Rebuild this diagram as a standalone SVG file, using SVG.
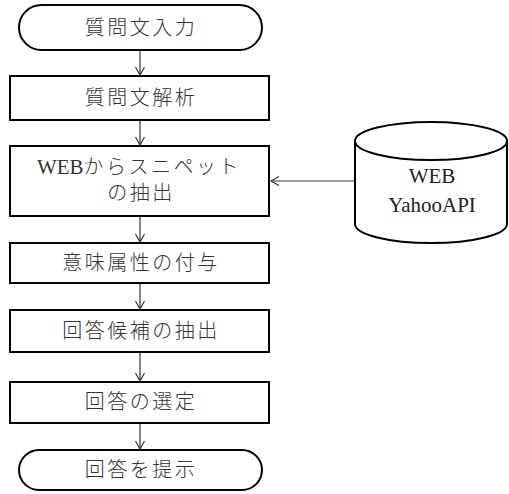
<svg xmlns="http://www.w3.org/2000/svg" width="509" height="494" viewBox="0 0 509 494">
<style>
.shape{fill:#fff;stroke:#000;stroke-width:2}
.t{font-family:"Liberation Serif","Noto Sans CJK JP",serif;font-size:20px;font-weight:300;fill:#333;text-anchor:middle;dominant-baseline:central;letter-spacing:2.5px}
.l{letter-spacing:0;font-size:21px;font-weight:400}
.e{font-family:"Liberation Serif","Noto Sans CJK JP",serif;font-size:21px;fill:#222;text-anchor:middle;dominant-baseline:central}
.c{fill:none;stroke:#333;stroke-width:1.2}
</style>
<defs>
<marker id="a" markerWidth="12" markerHeight="12" refX="9" refY="5" orient="auto" markerUnits="userSpaceOnUse">
<path d="M1,0.5 L9,5 L1,9.5" fill="none" stroke="#333" stroke-width="1.2"/>
</marker>
</defs>
<g id="connectors">
<line class="c" x1="140" y1="50" x2="140" y2="75" marker-end="url(#a)"/>
<line class="c" x1="140" y1="120" x2="140" y2="145" marker-end="url(#a)"/>
<line class="c" x1="140" y1="216" x2="140" y2="242" marker-end="url(#a)"/>
<line class="c" x1="140" y1="283" x2="140" y2="309" marker-end="url(#a)"/>
<line class="c" x1="140" y1="352" x2="140" y2="381" marker-end="url(#a)"/>
<line class="c" x1="140" y1="423" x2="140" y2="449" marker-end="url(#a)"/>
<line class="c" x1="355" y1="181" x2="271" y2="181" marker-end="url(#a)"/>
</g>
<g id="start">
<rect class="shape" x="19" y="5" width="243" height="45" rx="22.5" ry="22.5"/>
<text class="t" x="141" y="28">質問文入力</text>
</g>
<g id="analyze">
<rect class="shape" x="10" y="76" width="259" height="44"/>
<text class="t" x="141" y="98">質問文解析</text>
</g>
<g id="snippet">
<rect class="shape" x="10" y="146" width="259" height="70"/>
<text class="t" x="139" y="167"><tspan class="l">WEB</tspan>からスニペット</text>
<text class="t" x="141" y="193">の抽出</text>
</g>
<g id="semantic">
<rect class="shape" x="10" y="243" width="259" height="40"/>
<text class="t" x="141" y="263">意味属性の付与</text>
</g>
<g id="candidates">
<rect class="shape" x="10" y="310" width="259" height="42"/>
<text class="t" x="141" y="331">回答候補の抽出</text>
</g>
<g id="select">
<rect class="shape" x="10" y="382" width="259" height="41"/>
<text class="t" x="141" y="402">回答の選定</text>
</g>
<g id="end">
<rect class="shape" x="19" y="450" width="243" height="40" rx="20" ry="20"/>
<text class="t" x="141" y="470">回答を提示</text>
</g>
<g id="web">
<path class="shape" d="M355,141 L355,224 A76,19 0 0 0 507,224 L507,141"/>
<ellipse class="shape" cx="431" cy="141" rx="76" ry="19"/>
<text class="e" x="432" y="176">WEB</text>
<text class="e" x="432" y="205">YahooAPI</text>
</g>
</svg>
